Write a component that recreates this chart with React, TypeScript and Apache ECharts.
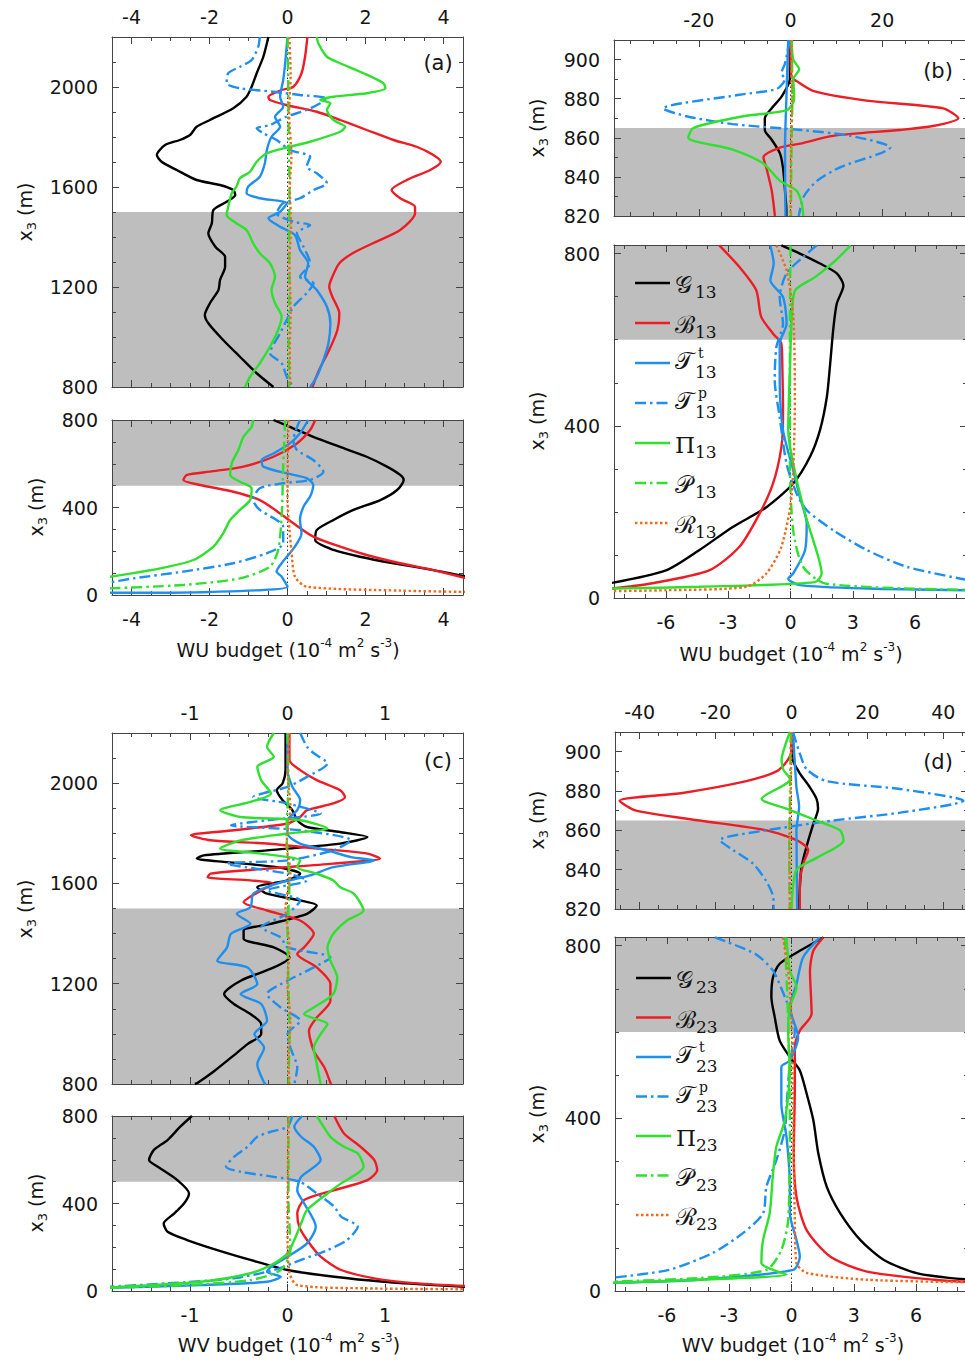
import React, { useEffect, useRef } from 'react';
import * as echarts from 'echarts';

const FONT = 'DejaVu Sans, Liberation Sans, Arial, sans-serif';
const SERIF = 'DejaVu Serif, Liberation Serif, serif';
const FRAME = '#444444';
const TXT = '#151515';
const SHADE = '#bebebe';

// ---------- tick labels ----------
const XLAB_A = [-4, -2, 0, 2, 4];
const XLAB_B_UP = [-20, 0, 20];
const XLAB_BD_LO = [-6, -3, 0, 3, 6];
const XLAB_C = [-1, 0, 1];
const XLAB_D_UP = [-40, -20, 0, 20, 40];
const YLAB_AC_UP = [800, 1200, 1600, 2000];
const YLAB_AC_LO = [0, 400, 800];
const YLAB_BD_UP = [820, 840, 860, 880, 900];
const YLAB_BD_LO = [0, 400, 800];

// ---------- shaded layers ----------
const SHADE_AC_UP = [800, 1500];
const SHADE_AC_LO = [500, 800];
const SHADE_BD_UP = [820, 865];
const SHADE_BD_LO = [600, 820];

// ---------- (a) WU budget, upper ----------
const A_UP_G = [[-0.49,2200],[-0.62,2121],[-0.79,2055],[-0.92,2001],[-1.05,1961],[-1.39,1915],[-1.99,1868],[-2.33,1841],[-2.5,1808],[-2.76,1788],[-3.14,1768],[-3.35,1728],[-3.23,1701],[-2.84,1668],[-2.33,1628],[-1.73,1608],[-1.39,1588],[-1.34,1568],[-1.56,1541],[-1.9,1508],[-1.94,1455],[-2.03,1415],[-1.85,1361],[-1.6,1321],[-1.6,1281],[-1.73,1228],[-1.77,1188],[-1.99,1135],[-2.12,1088],[-2.03,1055],[-1.65,988],[-1.22,921],[-0.79,855],[-0.36,800]];
const A_UP_B = [[0.51,2200],[0.45,2121],[0.36,2055],[0.15,2001],[-0.15,1988],[-0.49,1961],[-0.45,1948],[-0.03,1928],[0.75,1901],[1.35,1868],[2.03,1828],[2.72,1788],[3.31,1761],[3.74,1728],[3.93,1701],[3.66,1668],[3.06,1628],[2.67,1588],[2.89,1555],[3.27,1521],[3.27,1495],[2.89,1428],[2.19,1375],[1.67,1335],[1.33,1295],[1.15,1241],[1.07,1201],[1.15,1161],[1.33,1095],[1.28,1028],[1.07,948],[0.81,868],[0.64,800]];
const A_UP_TT = [[0,2200],[-0.06,2095],[-0.11,2028],[-0.19,1961],[-0.11,1921],[-0.32,1881],[-0.19,1841],[-0.41,1801],[-0.53,1748],[-0.58,1695],[-0.71,1641],[-1.01,1601],[-1.05,1575],[-0.71,1555],[-0.02,1535],[-0.19,1501],[-0.49,1475],[-0.19,1441],[0.19,1408],[0.32,1348],[0.53,1295],[0.45,1241],[0.75,1188],[1.01,1121],[1.1,1055],[1.05,975],[0.92,908],[0.75,841],[0.58,800]];
const A_UP_TP = [[-0.71,2200],[-0.75,2161],[-0.92,2108],[-1.22,2081],[-1.52,2055],[-1.56,2015],[-1.22,1995],[-0.36,1981],[0.32,1968],[1.01,1955],[0.84,1935],[0.49,1908],[-0.03,1881],[-0.45,1848],[-0.79,1835],[-0.62,1815],[-0.28,1788],[0.06,1748],[0.58,1721],[0.49,1681],[0.75,1655],[1.01,1615],[0.67,1588],[0.32,1555],[-0.11,1535],[-0.28,1495],[0.15,1461],[0.58,1448],[0.24,1415],[0.41,1361],[0.58,1295],[0.32,1241],[0.67,1215],[0.49,1175],[0.15,1121],[-0.02,1068],[-0.19,1015],[-0.45,935],[-0.15,895],[-0.02,841],[0.15,800]];
const A_UP_PI = [[0.75,2200],[0.79,2175],[1.01,2121],[1.35,2095],[1.95,2055],[2.46,2015],[2.51,1995],[2.03,1975],[1.18,1961],[0.84,1948],[1.1,1935],[1.01,1908],[1.18,1868],[1.48,1841],[1.35,1821],[0.58,1781],[0.06,1761],[-0.53,1735],[-0.79,1701],[-0.96,1661],[-1.22,1635],[-1.31,1601],[-1.43,1575],[-1.52,1521],[-1.56,1488],[-1.31,1455],[-1.05,1428],[-0.88,1375],[-0.71,1335],[-0.45,1295],[-0.32,1241],[-0.41,1188],[-0.32,1135],[-0.15,1081],[-0.24,1028],[-0.45,961],[-0.71,895],[-0.96,841],[-1.09,800]];
const A_UP_P = [[0,2200],[0.02,2000],[0.03,1800],[0.05,1600],[0.04,1400],[0.05,1200],[0.03,1000],[0.04,800]];
const A_UP_R = [[0.05,2200],[0.08,2050],[0.04,1900],[0.1,1720],[0.06,1600],[0.09,1450],[0.05,1300],[0.08,1100],[0.06,950],[0.07,800]];

// ---------- (a) WU budget, lower ----------
const A_LO_G = [[-0.36,800],[0.06,769],[0.66,723],[1.35,677],[2.03,632],[2.55,587],[2.89,549],[2.98,526],[2.81,480],[2.38,434],[1.69,389],[1.18,343],[0.75,297],[0.71,251],[1.18,206],[1.86,175],[2.72,145],[3.74,114],[4.6,84]];
const A_LO_B = [[0.71,800],[0.58,754],[0.24,693],[-0.36,632],[-1.13,587],[-1.99,564],[-2.58,549],[-2.67,526],[-2.24,503],[-1.39,472],[-0.71,434],[-0.19,373],[0.15,328],[0.66,267],[1.35,221],[2.03,183],[2.89,145],[3.74,114],[4.6,76]];
const A_LO_TT = [[0.53,800],[0.32,739],[0.06,693],[-0.36,647],[-0.66,617],[-0.62,587],[-0.02,556],[0.49,534],[0.66,503],[0.58,450],[0.41,404],[0.32,343],[0.36,282],[0.19,221],[-0.15,145],[-0.28,107],[-0.15,84],[0,38],[-2,14],[-4.6,10]];
const A_LO_TP = [[0.32,800],[0.15,708],[0.24,663],[0.66,617],[0.92,564],[0.58,526],[-0.11,511],[-0.71,488],[-0.88,434],[-0.71,389],[-0.28,343],[-0.11,312],[-0.11,236],[-0.53,191],[-1.39,145],[-2.67,107],[-3.95,76],[-4.6,56]];
const A_LO_PI = [[-0.88,800],[-0.92,769],[-1.13,723],[-1.26,663],[-1.43,602],[-1.47,549],[-1.22,518],[-0.92,488],[-0.96,434],[-1.22,389],[-1.47,343],[-1.65,282],[-1.9,221],[-2.41,160],[-3.26,122],[-4.6,82]];
const A_LO_P = [[-0.06,800],[-0.11,587],[-0.15,358],[-0.24,206],[-0.45,130],[-1.22,76],[-2.67,46],[-4.6,30]];
const A_LO_R = [[0.02,800],[0,434],[0.05,300],[0.1,206],[0.19,84],[0.49,38],[2.9,20],[4.6,14]];

// ---------- (b) WU budget, upper ----------
const B_UP_G = [[-0.15,910],[-0.15,890],[-1.96,881],[-4.14,875],[-5.6,870],[-5.6,864],[-4.1,859],[-2.3,852],[-1.6,844],[-1.2,833],[-0.9,823],[-0.9,820]];
const B_UP_B = [[0,910],[0.2,891],[1.3,889],[4.9,884],[16.6,879],[33.3,875],[36.6,870],[31.1,866],[23.9,864],[9.3,861],[2.1,857],[-2.3,855],[-5.9,850],[-5.2,844],[-4.1,833],[-3.4,820]];
const B_UP_TT = [[-0.5,910],[-0.9,880],[-1.2,855],[-1.1,820]];
const B_UP_TP = [[-0.15,910],[-1.2,898],[-2,893],[-1.2,890],[-3,885],[-11.1,882],[-27.8,875],[-22.7,871],[-12.6,867],[2.1,864],[13.1,861],[21.8,855],[19.6,852],[10.9,845],[5.8,838],[2.9,830],[1.8,820]];
const B_UP_PI = [[0.2,910],[0.6,900],[1.9,895],[0.6,890],[0.8,881],[0.6,878],[-0.9,874],[-10.3,871],[-21.2,865],[-22.3,860],[-12.6,854],[-6,847],[-2.3,838],[1.3,833],[2.4,827],[2.8,820]];
const B_UP_P = [[0.3,910],[0.4,880],[0.2,850],[0.1,820]];
const B_UP_R = [[0.2,910],[0.3,880],[0.1,850],[0,820]];

// ---------- (b) WU budget, lower ----------
const B_LO_G = [[-0.44,819],[0.45,800],[1.42,777],[2.23,754],[2.55,726],[2.23,684],[2.07,629],[1.91,544],[1.75,467],[1.42,390],[0.94,328],[0.13,266],[-1.16,211],[-2.78,165],[-4.4,111],[-6,64],[-8.6,35]];
const B_LO_B = [[-3.43,819],[-2.46,769],[-1.65,715],[-1.41,653],[-0.84,614],[-0.44,591],[-0.39,529],[-0.36,420],[-0.44,350],[-0.84,266],[-1.49,196],[-2.46,119],[-3.92,64],[-6.8,33],[-8.6,22]];
const B_LO_TT = [[-0.97,819],[-0.81,777],[-0.97,738],[-0.36,699],[-0.19,637],[-0.52,591],[-0.52,506],[-0.36,390],[0.13,297],[0.45,235],[0.78,173],[0.7,111],[0.13,57],[-0.11,45],[0.45,30],[3.69,22],[8.6,18]];
const B_LO_TP = [[1.26,819],[0.61,792],[-0.19,754],[-0.52,699],[-0.36,637],[-0.68,583],[-0.76,506],[-0.52,420],[-0.19,312],[0.29,243],[0.78,204],[2.07,157],[3.69,111],[5.63,72],[8.6,41]];
const B_LO_PI = [[2.9,819],[2.17,784],[1.2,746],[0.23,715],[0.07,660],[-0.02,544],[-0.11,390],[0.13,312],[0.7,196],[1.34,95],[1.5,57],[1.18,37],[-4.4,26],[-8.6,22]];
const B_LO_P = [[0,819],[-0.03,622],[-0.03,312],[0.13,157],[0.61,72],[1.73,33],[8.6,19]];
const B_LO_R = [[-0.68,819],[-0.19,761],[0.13,660],[0.21,467],[0.05,235],[-0.44,119],[-1.16,57],[-2.13,26],[-6,18],[-8.6,16]];

// ---------- (c) WV budget, upper ----------
const C_UP_G = [[-0.02,2200],[-0.02,2052],[-0.05,1999],[-0.11,1972],[-0.05,1932],[0.05,1892],[0.1,1852],[0.2,1825],[0.54,1805],[0.82,1785],[0.54,1759],[-0.21,1732],[-0.86,1712],[-0.93,1699],[-0.62,1685],[-0.11,1665],[0.13,1639],[0,1612],[-0.31,1585],[-0.21,1559],[0.13,1532],[0.3,1512],[0.2,1479],[-0.17,1439],[-0.45,1412],[-0.45,1379],[-0.14,1345],[0.02,1305],[-0.14,1265],[-0.48,1212],[-0.65,1159],[-0.55,1119],[-0.38,1079],[-0.27,1039],[-0.27,999],[-0.41,959],[-0.58,905],[-0.75,852],[-0.92,805],[-0.95,800]];
const C_UP_B = [[0.02,2200],[0.02,2092],[0.13,2052],[0.3,2012],[0.54,1972],[0.59,1945],[0.47,1919],[0.2,1892],[0.13,1865],[0,1839],[-0.55,1812],[-0.99,1792],[-0.79,1772],[-0.21,1759],[0.3,1739],[0.82,1719],[0.95,1699],[0.47,1679],[-0.21,1659],[-0.79,1639],[-0.82,1625],[-0.38,1612],[-0.14,1599],[-0.27,1572],[-0.45,1525],[-0.21,1492],[0.13,1452],[0.27,1399],[0.17,1345],[0.1,1319],[0.3,1265],[0.44,1199],[0.44,1132],[0.3,1065],[0.22,1012],[0.27,932],[0.38,865],[0.44,805],[0.45,800]];
const C_UP_TT = [[0,2200],[0,2052],[0.05,1985],[0.13,1932],[0.1,1892],[0,1852],[0,1799],[0.13,1759],[0.41,1732],[0.65,1705],[0.89,1692],[0.47,1665],[0.23,1632],[-0.11,1599],[-0.35,1559],[-0.38,1505],[-0.52,1479],[-0.38,1439],[-0.58,1399],[-0.62,1345],[-0.72,1292],[-0.41,1265],[-0.31,1199],[-0.48,1159],[-0.27,1119],[-0.21,1052],[-0.34,999],[-0.24,945],[-0.31,879],[-0.24,805],[-0.22,800]];
const C_UP_TP = [[0.13,2200],[0.2,2145],[0.27,2119],[0.41,2079],[0.2,2025],[0,1985],[-0.35,1945],[0,1919],[0.34,1879],[-0.21,1852],[-0.58,1832],[0.13,1812],[0.65,1772],[0.47,1732],[0,1692],[-0.62,1679],[0,1639],[0.2,1612],[-0.21,1572],[0.13,1532],[0,1479],[-0.27,1425],[-0.07,1385],[0,1345],[0.44,1305],[0.27,1265],[0,1212],[-0.21,1159],[-0.07,1105],[0.13,1052],[0,999],[0.03,945],[0.1,865],[0.07,800]];
const C_UP_PI = [[-0.14,2200],[-0.21,2145],[-0.14,2105],[-0.31,2065],[-0.27,2012],[-0.17,1959],[-0.38,1925],[-0.69,1892],[-0.48,1865],[0.13,1852],[0.41,1819],[0,1799],[-0.48,1772],[-0.69,1739],[-0.27,1719],[0.13,1692],[0.1,1665],[0.3,1639],[0.47,1612],[0.54,1585],[0.68,1559],[0.78,1492],[0.61,1452],[0.47,1399],[0.41,1345],[0.44,1292],[0.51,1225],[0.47,1159],[0.27,1105],[0.17,1079],[0.41,1039],[0.34,999],[0.27,945],[0.3,879],[0.34,800]];
const C_UP_P = [[0,2200],[0.01,2000],[-0.01,1800],[0.02,1600],[0,1400],[0.01,1200],[0.02,1000],[0.01,800]];
const C_UP_R = [[0.02,2200],[0,2050],[0.03,1900],[-0.01,1750],[0.03,1650],[-0.02,1500],[0.02,1350],[0,1200],[0.03,1050],[0.01,900],[0.02,800]];

// ---------- (c) WV budget, lower ----------
const C_LO_G = [[-0.98,800],[-1.1,751],[-1.23,690],[-1.37,645],[-1.42,599],[-1.33,568],[-1.13,507],[-1.01,446],[-1.06,401],[-1.16,355],[-1.27,309],[-1.23,271],[-1.03,233],[-0.72,187],[-0.38,142],[0,96],[0.48,65],[0.99,42],[1.5,27],[1.9,18]];
const C_LO_B = [[0.48,800],[0.58,720],[0.75,659],[0.89,599],[0.92,553],[0.82,507],[0.48,461],[0.17,416],[0.1,355],[0.12,294],[0.2,233],[0.34,157],[0.55,96],[0.89,58],[1.33,35],[1.9,22]];
const C_LO_TT = [[0.15,800],[0.07,751],[0.14,705],[0.27,659],[0.34,599],[0.14,522],[0.1,461],[0.17,401],[0.29,294],[0.2,218],[0,157],[-0.17,111],[-0.21,88],[-0.07,65],[-0.21,42],[-0.89,27],[-1.9,14]];
const C_LO_TP = [[0.05,800],[0,751],[-0.17,728],[-0.31,705],[-0.41,659],[-0.55,613],[-0.63,568],[-0.48,545],[-0.14,522],[0.13,499],[0.3,446],[0.48,385],[0.55,340],[0.72,294],[0.61,233],[0.41,187],[0.14,142],[-0.14,96],[-0.55,58],[-1.23,35],[-1.9,18]];
const C_LO_PI = [[0.3,800],[0.37,751],[0.44,705],[0.58,659],[0.72,629],[0.78,568],[0.72,538],[0.55,492],[0.41,446],[0.2,370],[0.14,309],[0.07,233],[0,172],[-0.14,126],[-0.38,81],[-0.89,42],[-1.9,15]];
const C_LO_P = [[0.01,800],[0.01,416],[0.03,187],[-0.07,96],[-0.38,50],[-1.06,27],[-1.9,14]];
const C_LO_R = [[0.01,800],[0,282],[0.02,84],[0.1,27],[0.82,12],[1.9,8]];

// ---------- (d) WV budget, upper ----------
const D_UP_G = [[0,910],[0.3,896],[2.2,889],[4.8,882],[6.6,876],[7,871],[5.7,863],[4,852],[2.6,841],[2.2,831],[1.9,820]];
const D_UP_B = [[0,910],[0,901],[-0.88,896],[-3.96,890],[-11.9,885],[-28.7,879],[-45.3,875],[-40.9,870],[-24.2,865],[-6.6,860],[1.3,855],[4.4,850],[3.1,843],[2.2,834],[2.2,820]];
const D_UP_TT = [[0.4,910],[1.3,882],[2,872],[1.3,860],[1.5,820]];
const D_UP_TP = [[0.4,910],[2.2,899],[4,891],[9.2,885],[28.6,881],[45.3,875],[28.6,869],[11,865],[-6.6,860],[-18.9,855],[-15.4,850],[-10.1,843],[-6.6,834],[-4.8,826],[-4.7,820]];
const D_UP_PI = [[-0.4,910],[-1.7,903],[-2.6,896],[-2.2,891],[-0.4,886],[-7.9,876],[-1.3,871],[6.6,865],[12.8,860],[13.7,855],[6.6,846],[1.3,840],[0.4,831],[0,820]];
const D_UP_P = [[-0.2,910],[-0.4,880],[-0.6,850],[-0.5,820]];
const D_UP_R = [[0,910],[-0.2,880],[-0.5,850],[-0.4,820]];

// ---------- (d) WV budget, lower ----------
const D_LO_G = [[1.53,819],[0.4,788],[-0.57,758],[-0.89,727],[-0.97,681],[-0.81,635],[-0.57,580],[-0.08,542],[0.4,511],[0.73,457],[1.05,396],[1.29,319],[1.7,241],[2.35,180],[3.32,118],[4.45,72],[6.07,41],[8.6,26]];
const D_LO_B = [[1.53,819],[1.05,788],[0.89,742],[0.97,642],[0.4,603],[0.16,565],[0.16,473],[0.11,319],[0.24,218],[0.73,141],[1.86,80],[3.64,45],[6.88,26],[8.6,21]];
const D_LO_TT = [[1.37,819],[0.56,773],[0.24,711],[-0.08,657],[0.32,588],[-0.08,534],[-0.49,519],[-0.49,434],[-0.24,357],[-0.08,241],[-0.08,180],[0.24,118],[0.4,80],[0.08,49],[-4.45,26],[-8.6,19]];
const D_LO_TP = [[-3.69,819],[-1.75,781],[-0.89,742],[-0.32,681],[-0.08,650],[0.16,604],[-0.08,527],[-0.24,427],[-0.32,373],[-0.73,303],[-1.21,241],[-1.37,180],[-2.34,134],[-3.8,88],[-5.9,49],[-8.6,31]];
const D_LO_PI = [[-0.24,819],[-0.08,742],[0.24,704],[-0.08,657],[-0.16,603],[-0.08,511],[-0.32,396],[-0.73,334],[-0.89,272],[-1.05,180],[-1.37,118],[-1.45,65],[-0.89,49],[-0.24,38],[-4.45,26],[-8.6,19]];
const D_LO_P = [[-0.32,819],[-0.16,626],[-0.08,396],[-0.16,164],[-0.49,95],[-1.21,49],[-4.45,30],[-8.6,22]];
const D_LO_R = [[-0.41,819],[-0.16,742],[0,626],[0.08,396],[0.16,164],[0.24,65],[0.73,42],[3.64,26],[8.6,20]];

// ---------- terms (style) ----------
const TERMS = [
  { key: 'G', sym: '𝒢', sup: '', color: '#000000', dash: 'solid', legendDash: null },
  { key: 'B', sym: 'ℬ', sup: '', color: '#ee1c24', dash: 'solid', legendDash: null },
  { key: 'TT', sym: '𝒯', sup: 't', color: '#1e8fef', dash: 'solid', legendDash: null },
  { key: 'TP', sym: '𝒯', sup: 'p', color: '#1e8fef', dash: [11, 4, 2.5, 4], legendDash: [11, 4, 2.5, 4] },
  { key: 'PI', sym: 'Π', sup: '', color: '#2fe02f', dash: 'solid', legendDash: null },
  { key: 'P', sym: '𝒫', sup: '', color: '#2fe02f', dash: [11, 4, 2.5, 4], legendDash: [11, 4, 2.5, 4] },
  { key: 'R', sym: 'ℛ', sup: '', color: '#f26a1b', dash: [2.5, 2.5], legendDash: [2.5, 2.5] },
];

const PANELS = [
  { left: 112, top: 37, width: 351, height: 350, x: [-4.5, 4.5], xStep: 0.5, xLab: XLAB_A, xSide: 'top', y: [800, 2200], yStep: 100, yLab: YLAB_AC_UP, shade: SHADE_AC_UP,
    data: { G: A_UP_G, B: A_UP_B, TT: A_UP_TT, TP: A_UP_TP, PI: A_UP_PI, P: A_UP_P, R: A_UP_R } },
  { left: 112, top: 420, width: 351, height: 175, x: [-4.5, 4.5], xStep: 0.5, xLab: XLAB_A, xSide: 'bottom', y: [0, 800], yStep: 100, yLab: YLAB_AC_LO, shade: SHADE_AC_LO,
    data: { G: A_LO_G, B: A_LO_B, TT: A_LO_TT, TP: A_LO_TP, PI: A_LO_PI, P: A_LO_P, R: A_LO_R } },
  { left: 614, top: 40, width: 353, height: 176, x: [-38.5, 38.5], xStep: 5, xLab: XLAB_B_UP, xSide: 'top', y: [820, 910], yStep: 10, yLab: YLAB_BD_UP, shade: SHADE_BD_UP,
    data: { G: B_UP_G, B: B_UP_B, TT: B_UP_TT, TP: B_UP_TP, PI: B_UP_PI, P: B_UP_P, R: B_UP_R } },
  { left: 614, top: 245, width: 353, height: 353, x: [-8.5, 8.5], xStep: 1, xLab: XLAB_BD_LO, xSide: 'bottom', y: [0, 820], yStep: 100, yLab: YLAB_BD_LO, shade: SHADE_BD_LO,
    data: { G: B_LO_G, B: B_LO_B, TT: B_LO_TT, TP: B_LO_TP, PI: B_LO_PI, P: B_LO_P, R: B_LO_R } },
  { left: 112, top: 733, width: 351, height: 351, x: [-1.8, 1.8], xStep: 0.2, xLab: XLAB_C, xSide: 'top', y: [800, 2200], yStep: 100, yLab: YLAB_AC_UP, shade: SHADE_AC_UP,
    data: { G: C_UP_G, B: C_UP_B, TT: C_UP_TT, TP: C_UP_TP, PI: C_UP_PI, P: C_UP_P, R: C_UP_R } },
  { left: 112, top: 1116, width: 351, height: 175, x: [-1.8, 1.8], xStep: 0.2, xLab: XLAB_C, xSide: 'bottom', y: [0, 800], yStep: 100, yLab: YLAB_AC_LO, shade: SHADE_AC_LO,
    data: { G: C_LO_G, B: C_LO_B, TT: C_LO_TT, TP: C_LO_TP, PI: C_LO_PI, P: C_LO_P, R: C_LO_R } },
  { left: 615, top: 732, width: 353, height: 177, x: [-46.5, 46.5], xStep: 5, xLab: XLAB_D_UP, xSide: 'top', y: [820, 910], yStep: 10, yLab: YLAB_BD_UP, shade: SHADE_BD_UP,
    data: { G: D_UP_G, B: D_UP_B, TT: D_UP_TT, TP: D_UP_TP, PI: D_UP_PI, P: D_UP_P, R: D_UP_R } },
  { left: 615, top: 937, width: 353, height: 354, x: [-8.5, 8.5], xStep: 1, xLab: XLAB_BD_LO, xSide: 'bottom', y: [0, 820], yStep: 100, yLab: YLAB_BD_LO, shade: SHADE_BD_LO,
    data: { G: D_LO_G, B: D_LO_B, TT: D_LO_TT, TP: D_LO_TP, PI: D_LO_PI, P: D_LO_P, R: D_LO_R } },
];

const PANEL_TAGS = [
  { text: '(a)', x: 438, y: 63 },
  { text: '(b)', x: 938, y: 71 },
  { text: '(c)', x: 438, y: 761 },
  { text: '(d)', x: 938, y: 762 },
];
const Y_NAMES = [
  { x: 25, y: 212 }, { x: 36, y: 507 }, { x: 537, y: 128 }, { x: 537, y: 421 },
  { x: 25, y: 909 }, { x: 36, y: 1203 }, { x: 537, y: 820 }, { x: 537, y: 1114 },
];
const X_NAMES = [
  { text: 'WU', x: 288, y: 650 }, { text: 'WU', x: 791, y: 654 },
  { text: 'WV', x: 289, y: 1345 }, { text: 'WV', x: 793, y: 1345 },
];
const LEGENDS = [
  { x: 635, y: 283, dy: 40, idx: '13' },
  { x: 636, y: 978, dy: 39.5, idx: '23' },
];

function steps(min: number, max: number, step: number) {
  const out: number[] = [];
  const start = Math.ceil(min / step - 1e-9);
  const end = Math.floor(max / step + 1e-9);
  for (let k = start; k <= end; k++) out.push(Number((k * step).toFixed(6)));
  return out;
}

function buildOption() {
  const grid: any[] = [];
  const xAxis: any[] = [];
  const yAxis: any[] = [];
  const series: any[] = [];
  const labelStyle = { fontSize: 19, fontFamily: FONT, color: TXT };

  PANELS.forEach((p, gi) => {
    grid.push({ left: p.left, top: p.top, width: p.width, height: p.height, containLabel: false, outerBoundsMode: 'none' });
    const xMinor = steps(p.x[0], p.x[1], p.xStep);
    const yMinor = steps(p.y[0], p.y[1], p.yStep);
    const mkX = (pos: string, ticks: number[], len: number, showLine: boolean, showLabel: boolean) => ({
      gridIndex: gi, type: 'value', position: pos, min: p.x[0], max: p.x[1],
      axisLine: { show: showLine, onZero: false, lineStyle: { color: FRAME, width: 1 } },
      axisTick: { show: true, inside: true, length: len, customValues: ticks, lineStyle: { color: FRAME, width: 1 } },
      axisLabel: { show: showLabel, customValues: p.xLab, formatter: (v: number) => String(v), margin: pos === 'top' ? 11 : 14, ...labelStyle },
      splitLine: { show: false }, minorTick: { show: false },
    });
    const mkY = (pos: string, ticks: number[], len: number, showLine: boolean, showLabel: boolean) => ({
      gridIndex: gi, type: 'value', position: pos, min: p.y[0], max: p.y[1],
      axisLine: { show: showLine, onZero: false, lineStyle: { color: FRAME, width: 1 } },
      axisTick: { show: true, inside: true, length: len, customValues: ticks, lineStyle: { color: FRAME, width: 1 } },
      axisLabel: { show: showLabel, customValues: p.yLab, formatter: (v: number) => String(v), margin: 14, ...labelStyle },
      splitLine: { show: false }, minorTick: { show: false },
    });
    xAxis.push(mkX('bottom', p.xLab, 7, true, p.xSide === 'bottom'));
    xAxis.push(mkX('top', p.xLab, 7, true, p.xSide === 'top'));
    xAxis.push(mkX('bottom', xMinor, 4, false, false));
    xAxis.push(mkX('top', xMinor, 4, false, false));
    yAxis.push(mkY('left', p.yLab, 7, true, true));
    yAxis.push(mkY('right', p.yLab, 7, true, false));
    yAxis.push(mkY('left', yMinor, 4, false, false));
    yAxis.push(mkY('right', yMinor, 4, false, false));

    const ax = gi * 4;
    // shaded layer
    series.push({
      type: 'line', xAxisIndex: ax, yAxisIndex: ax, data: [], silent: true, z: 0, symbol: 'none',
      markArea: { silent: true, z: 0, itemStyle: { color: SHADE, opacity: 1 }, label: { show: false },
        data: [[{ yAxis: p.shade[0] }, { yAxis: p.shade[1] }]] },
    });
    // zero reference line
    series.push({
      type: 'line', xAxisIndex: ax, yAxisIndex: ax, silent: true, z: 1, symbol: 'none',
      data: [[0, p.y[0]], [0, p.y[1]]],
      lineStyle: { color: '#333', width: 1, type: [1.5, 2.5] },
    });
    TERMS.forEach((t) => {
      series.push({
        type: 'line', xAxisIndex: ax, yAxisIndex: ax, silent: true, z: 2, symbol: 'none',
        smooth: 0.25, clip: true,
        data: (p.data as any)[t.key],
        lineStyle: { color: t.color, width: 2.4, type: t.dash },
      });
    });
  });

  const graphic: any[] = [];
  PANEL_TAGS.forEach((t) => graphic.push({
    type: 'text', x: t.x, y: t.y, z: 20,
    style: { text: t.text, fontSize: 21, fontFamily: FONT, fill: TXT, align: 'center', verticalAlign: 'middle' },
  }));
  Y_NAMES.forEach((n) => graphic.push({
    type: 'text', x: n.x, y: n.y, rotation: Math.PI / 2, z: 20,
    style: {
      text: '{n|x}{s|3}{n| (m)}', fill: TXT, align: 'center', verticalAlign: 'middle', fontFamily: FONT, fontSize: 19,
      rich: {
        n: { fontSize: 19, fontFamily: FONT, fill: TXT, lineHeight: 26 },
        s: { fontSize: 13, fontFamily: FONT, fill: TXT, verticalAlign: 'bottom' },
      },
    },
  }));
  X_NAMES.forEach((n) => graphic.push({
    type: 'text', x: n.x, y: n.y, z: 20,
    style: {
      text: `{n|${n.text} budget (10}{p|-4}{n| m}{p|2}{n| s}{p|-3}{n|)}`,
      fill: TXT, align: 'center', verticalAlign: 'middle', fontFamily: FONT, fontSize: 19,
      rich: {
        n: { fontSize: 19, fontFamily: FONT, fill: TXT, lineHeight: 26 },
        p: { fontSize: 12, fontFamily: FONT, fill: TXT, verticalAlign: 'top' },
      },
    },
  }));
  LEGENDS.forEach((L) => {
    TERMS.forEach((t, i) => {
      const y = L.y + i * L.dy;
      graphic.push({
        type: 'line', z: 20, shape: { x1: L.x, y1: y, x2: L.x + 35, y2: y },
        style: { stroke: t.color, lineWidth: 2.4, lineDash: t.legendDash || undefined },
      });
      const isPi = t.key === 'PI';
      graphic.push({
        type: 'text', z: 20, x: L.x + 40, y: y + (t.sup ? -2 : 2),
        style: { text: t.sym, fontSize: isPi ? 23 : 24, fontFamily: SERIF, fill: TXT, align: 'left', verticalAlign: 'middle' },
      });
      graphic.push({
        type: 'text', z: 20, x: L.x + 60, y: y + 9,
        style: { text: L.idx, fontSize: 17, fontFamily: SERIF, fill: TXT, align: 'left', verticalAlign: 'middle' },
      });
      if (t.sup) {
        graphic.push({
          type: 'text', z: 20, x: L.x + 63, y: y - 10,
          style: { text: t.sup, fontSize: 14, fontFamily: SERIF, fill: TXT, align: 'left', verticalAlign: 'middle' },
        });
      }
    });
  });

  return {
    animation: false,
    backgroundColor: '#ffffff',
    textStyle: { fontFamily: FONT },
    grid, xAxis, yAxis, series, graphic,
  };
}

export default function App() {
  const ref = useRef<HTMLDivElement>(null);
  useEffect(() => {
    const chart = echarts.init(ref.current as HTMLDivElement, null, { renderer: 'svg' });
    chart.setOption(buildOption() as any);
    return () => chart.dispose();
  }, []);
  return (
    <div style={{ position: 'fixed', left: 0, top: 0, width: 965, height: 1368, overflow: 'hidden', background: '#fff' }}>
      <div ref={ref} style={{ width: 975, height: 1368 }} />
    </div>
  );
}
